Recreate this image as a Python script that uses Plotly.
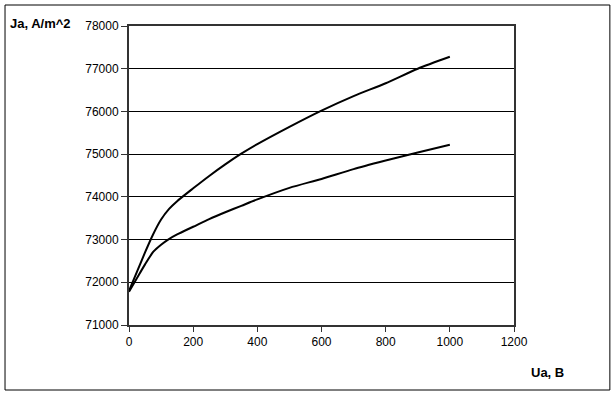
import plotly.graph_objects as go

upper_x = [0, 25, 50, 75, 100, 125, 150, 200, 250, 300, 350, 400, 500, 600, 700, 800, 900, 1000]
upper_y = [71800, 72250, 72700, 73120, 73470, 73720, 73900, 74200, 74490, 74760, 75010, 75235, 75640, 76020, 76360, 76660, 77000, 77280]

lower_x = [0, 25, 50, 76, 100, 122, 150, 200, 250, 300, 350, 400, 500, 600, 700, 800, 900, 1000]
lower_y = [71780, 72100, 72420, 72716, 72880, 73000, 73120, 73300, 73480, 73640, 73790, 73940, 74210, 74420, 74650, 74850, 75040, 75220]

x_ticks = [0, 200, 400, 600, 800, 1000, 1200]
y_ticks = [71000, 72000, 73000, 74000, 75000, 76000, 77000, 78000]

fig = go.Figure()
for xs, ys in [(upper_x, upper_y), (lower_x, lower_y)]:
    fig.add_trace(go.Scatter(x=xs, y=ys, mode="lines",
                             line=dict(color="black", width=2, shape="spline", smoothing=0.7),
                             showlegend=False, hoverinfo="skip"))

font = dict(family="Liberation Sans, Arial, sans-serif", size=12, color="black")
title_font = dict(family="Liberation Sans, Arial, sans-serif", size=13, color="black")

fig.update_layout(
    width=616, height=395,
    margin=dict(l=129, r=102, t=26, b=70),
    paper_bgcolor="white", plot_bgcolor="white",
    font=font,
    xaxis=dict(range=[0, 1200], tickvals=x_ticks, tickformat="d", showgrid=False, zeroline=False,
               showline=True, linecolor="#333333", linewidth=2, mirror=True,
               ticks="outside", ticklen=5, tickcolor="#333333", tickfont=font),
    yaxis=dict(range=[71000, 78000], tickvals=y_ticks, tickformat="d", showgrid=True, gridcolor="black",
               gridwidth=1, zeroline=False,
               showline=True, linecolor="#333333", linewidth=2, mirror=True,
               ticks="outside", ticklen=6, tickcolor="#333333", tickfont=font),
    shapes=[dict(type="rect", xref="paper", yref="paper",
                 x0=-0.322, x1=1.249, y0=-0.2174, y1=1.0702,
                 line=dict(color="black", width=1), fillcolor="rgba(0,0,0,0)", layer="below")],
    annotations=[
        dict(text="<b>Ja, A/m^2</b>", xref="paper", yref="paper",
             x=(8 - 129) / 385, y=(325 - 23) / 299, xanchor="left", yanchor="middle",
             showarrow=False, font=title_font),
        dict(text="<b>Ua, B</b>", xref="paper", yref="paper",
             x=(529 - 129) / 385, y=(325 - 372) / 299, xanchor="left", yanchor="middle",
             showarrow=False, font=title_font),
    ],
)

fig.write_html("out.html", config={"displayModeBar": False},
               post_script="document.body.style.margin='0';")
